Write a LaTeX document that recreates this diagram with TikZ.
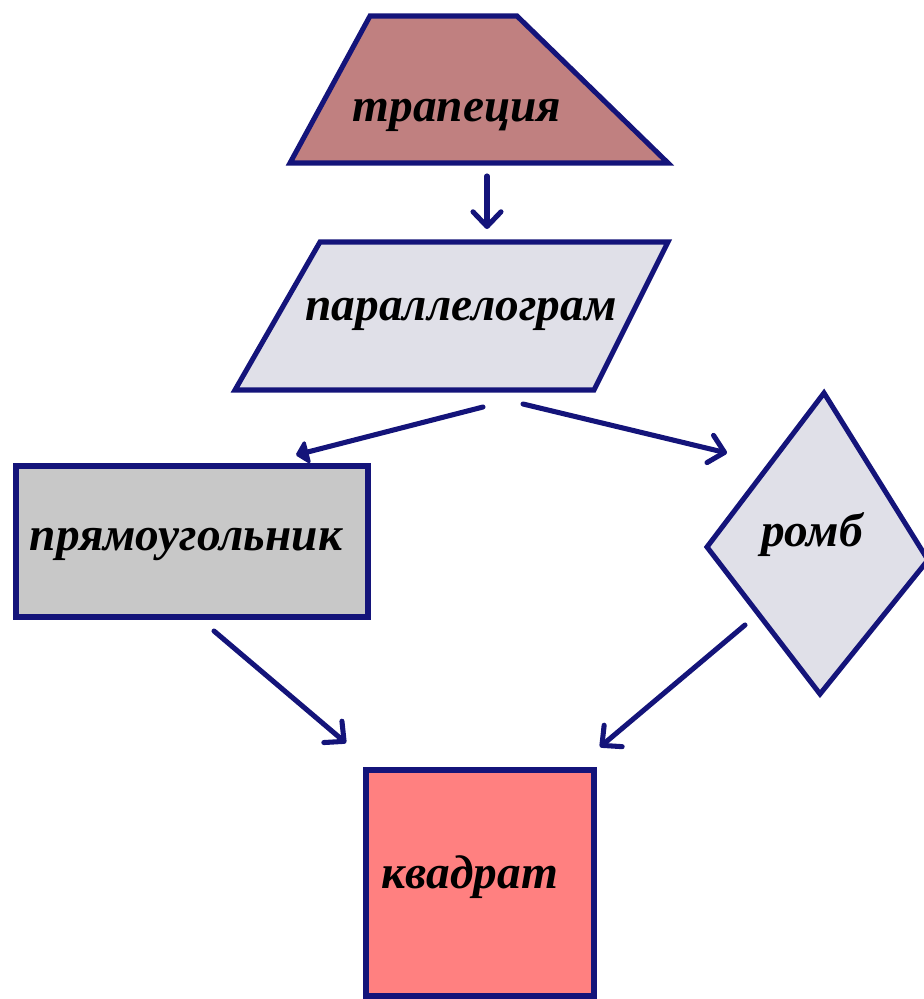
\documentclass[tikz,border=0pt]{standalone}
\usepackage{fontspec}
\setmainfont{Liberation Serif}
\usetikzlibrary{arrows.meta}
\definecolor{navyline}{HTML}{14147A}
\definecolor{trapfill}{HTML}{C08080}
\definecolor{lightfill}{HTML}{E0E0E8}
\definecolor{rectfill}{HTML}{C8C8C8}
\definecolor{sqfill}{HTML}{FF8080}
\tikzset{
  shapeline/.style={draw=navyline, line width=3.8pt, line join=miter},
  label text/.style={font=\fontsize{35.5}{38}\selectfont\bfseries\itshape, text=black, inner sep=0pt, anchor=base},
  conn/.style={draw=navyline, line width=3.8pt, line cap=round,
    -{Straight Barb[length=11pt,width=21pt,line width=3.8pt,round]}},
  connfilled/.style={draw=navyline, line width=3.8pt, line cap=round,
    -{Triangle[length=10pt,width=20pt,round]}},
}
\begin{document}
\begin{tikzpicture}[x=0.75pt,y=-0.75pt]
\useasboundingbox (0,0) rectangle (924,999);
% shapes
\filldraw[shapeline, fill=trapfill] (370,16) -- (517,16) -- (668,163) -- (290,163) -- cycle;
\filldraw[shapeline, fill=lightfill] (320,242) -- (668,242) -- (594,390) -- (235,390) -- cycle;
\filldraw[shapeline, fill=rectfill] (16,466) rectangle (368,617);
\filldraw[shapeline, fill=lightfill] (824,393) -- (928,560) -- (820,694) -- (707,547) -- cycle;
\filldraw[shapeline, fill=sqfill] (366,770) rectangle (594,996);
% labels
\node[label text] (trap) at (457,122) {трапеция};
\node[label text] (par) at (461,320) {параллелограм};
\node[label text] (rect) at (186,550) {прямоугольник};
\node[label text] (romb) at (812,546) {ромб};
\node[label text] (sq) at (470,888) {квадрат};
% connector end points
\coordinate (a1s) at (487,176);
\coordinate (a1e) at (487,229);
\coordinate (a2s) at (483,407);
\coordinate (a2e) at (296,455);
\coordinate (a3s) at (523,404);
\coordinate (a3e) at (727,453);
\coordinate (a4s) at (214,631);
\coordinate (a4e) at (346,743);
\coordinate (a5s) at (745,625);
\coordinate (a5e) at (600,747);
% connectors
\draw[conn] (a1s) -- (a1e);
\draw[connfilled] (a2s) -- (a2e);
\draw[conn] (a3s) -- (a3e);
\draw[conn] (a4s) -- (a4e);
\draw[conn] (a5s) -- (a5e);
\end{tikzpicture}
\end{document}
